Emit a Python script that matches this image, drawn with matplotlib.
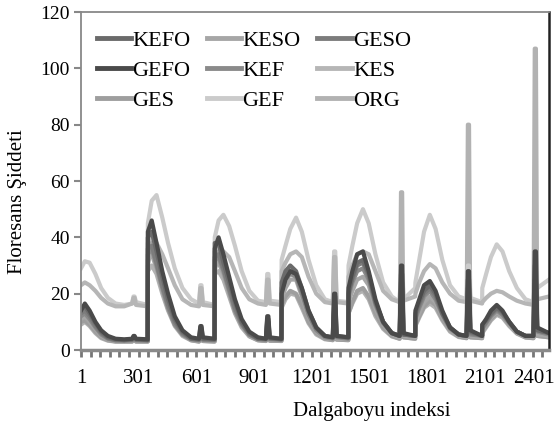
import numpy as np
import matplotlib
matplotlib.use("Agg")
import matplotlib.pyplot as plt
from matplotlib.transforms import ScaledTranslation

plt.rcParams['font.family'] = ['Liberation Serif', 'DejaVu Serif']

# spectra are 7 unfolded blocks of 348 points, values read at these offsets
SEG_LEN = 348
N_SEG = 7
OFFSETS = [0, 20, 45, 75, 105, 140, 180, 225, 266, 276, 286, 347]
SPIKE_OFF = 276   # scatter peak, drawn as a narrow flat-topped spike

GEF = [[29, 31.5, 31, 27, 22, 18.5, 16.5, 16, 16.5, 19, 17, 16],
       [45, 53, 55, 47, 38, 29, 22, 18, 16.5, 23, 17, 16],
       [40, 46, 48, 44, 37, 28, 21, 17.5, 17, 27, 17.5, 17],
       [32, 37, 43, 47, 42, 32, 23, 18, 17, 35, 17.5, 17],
       [30, 37, 45, 50, 45, 34, 24, 19, 17, 30, 18, 22],
       [24, 32, 42, 48, 43, 32, 23, 19, 18, 30, 18.5, 17],
       [22, 27, 33, 37.5, 35, 28, 22, 18, 17, 30, 22, 25]]
KES = [[23, 24, 23, 21, 18.5, 16.5, 15.5, 15.5, 16.5, 18.5, 16, 15.5],
       [38, 40, 38, 34, 29, 23, 18, 16, 15.5, 22, 16, 15.5],
       [35, 36, 35, 33, 28, 22, 18, 16.5, 16, 25, 16.5, 16],
       [28, 31, 34, 35, 33, 26, 20, 17, 16.5, 33, 17, 16.5],
       [26, 30, 34, 35, 34, 28, 21, 18, 17, 28, 17.5, 19],
       [20, 24, 28, 30.5, 29, 24, 20, 17.5, 17, 26, 17.5, 16.5],
       [17, 18.5, 20, 21, 20.5, 19, 17.5, 16.5, 16, 25, 18, 19]]
GEFO = [[14, 16.5, 14, 10, 7, 5, 4, 3.8, 4, 5, 4, 3.8],
        [42, 46, 38, 28, 20, 12, 7, 4.5, 4, 8.5, 4.5, 4],
        [36, 40, 34, 26, 18, 11, 6.5, 4.5, 4, 12, 4.5, 4],
        [20, 25, 28, 27, 22, 14, 8, 5, 4.5, 20, 5, 4.5],
        [22, 28, 34, 35, 28, 18, 10, 6, 5, 30, 6, 5],
        [14, 18, 23, 24.5, 21, 14, 8, 5.5, 5, 28, 7, 5],
        [9, 11, 14, 16, 14, 10, 6.5, 5, 5, 35, 8, 6]]
KEFO = [[15, 15.5, 13, 9.5, 6.5, 4.5, 3.8, 3.5, 3.8, 4.5, 3.8, 3.5],
        [40, 42, 35, 26, 18, 11, 6.5, 4, 3.8, 8, 4, 3.8],
        [38, 38, 31, 24, 17, 10, 6, 4, 4, 11, 4.2, 3.8],
        [24, 28, 30, 28, 22, 14, 8, 5, 4.5, 19, 5, 4.5],
        [20, 26, 31, 32, 27, 17, 10, 6, 5, 27, 5.5, 5],
        [13, 17, 21, 23, 20, 13, 8, 5.5, 5, 25, 6.5, 5],
        [9, 10.5, 13, 15, 13.5, 10, 6.5, 5, 5, 30, 7, 6]]
GESO = [[13, 14, 12, 8.5, 6, 4.2, 3.5, 3.5, 3.6, 4.5, 3.6, 3.5],
        [36, 37, 31, 23, 16, 10, 6, 4, 3.6, 7, 3.8, 3.6],
        [33, 34, 29, 22, 15, 9.5, 5.5, 4, 3.8, 10, 4, 3.8],
        [22, 26, 28, 27, 21, 13, 7.5, 5, 4.2, 17, 4.8, 4.2],
        [21, 25, 30, 31, 26, 17, 10, 6, 5, 24, 5.5, 5],
        [12, 16, 20, 22, 19, 13, 8, 5.5, 5, 22, 6, 5],
        [8, 10, 12.5, 14.5, 13, 10, 6.5, 5, 5, 25, 7, 6]]
KEF = [[12, 13, 11, 8, 5.5, 4, 3.4, 3.3, 3.4, 4, 3.4, 3.3],
       [34, 36, 30, 22, 15, 9, 5.5, 3.8, 3.4, 6, 3.6, 3.4],
       [32, 33, 28, 21, 14, 9, 5.5, 3.8, 3.6, 8, 3.8, 3.6],
       [21, 25, 27, 26, 20, 12.5, 7, 4.5, 4, 14, 4.5, 4],
       [19, 24, 28, 29, 25, 16, 9.5, 6, 5, 20, 5.5, 5],
       [11, 15, 19, 21, 18, 12.5, 7.5, 5.5, 5, 18, 5.5, 5],
       [7.5, 9.5, 12, 14, 12.5, 9.5, 6.5, 5, 5, 20, 6.5, 5.5]]
KESO = [[11, 12, 10, 7.5, 5, 3.8, 3.2, 3.1, 3.2, 3.8, 3.2, 3.1],
        [32, 34, 29, 21, 14.5, 9, 5.5, 3.6, 3.2, 5, 3.4, 3.2],
        [30, 31, 27, 20, 13.5, 8.5, 5, 3.6, 3.4, 6, 3.5, 3.4],
        [18, 22, 25, 25, 19, 12, 6.5, 4.2, 3.8, 10, 4, 3.8],
        [17, 21, 25, 26, 23, 15, 9, 5.5, 4.5, 14, 5, 4.5],
        [10, 13, 17, 19, 17, 12, 7, 5, 4.5, 14, 5, 4.5],
        [7, 9, 11.5, 13.5, 12, 9, 6, 4.8, 4.5, 15, 5.5, 5]]
GES = [[10, 10.5, 9, 6.5, 4.5, 3.5, 3, 3, 3, 3.5, 3, 3],
       [30, 38, 33, 24, 16, 9.5, 5.5, 3.5, 3, 4.5, 3.2, 3],
       [28, 35, 31, 23, 15, 9, 5, 3.5, 3.2, 5, 3.3, 3.2],
       [16, 19, 21, 20, 16, 10, 6, 4, 3.5, 8, 3.7, 3.5],
       [13, 17, 21, 22, 19, 13, 8, 5, 4, 10, 4.5, 4],
       [9, 12, 15.5, 17.5, 16, 11, 7, 4.8, 4.2, 10, 4.5, 4.2],
       [6.5, 8.5, 11, 13, 12, 9, 6, 4.5, 4.2, 10, 5, 4.5]]
ORG = [[9, 10, 8.5, 6, 4.2, 3.3, 3, 3, 3, 4, 3, 3],
       [28, 30, 27, 20, 14, 8.5, 5, 3.4, 3, 6, 3.2, 3],
       [27, 28, 25, 19, 13, 8, 4.8, 3.4, 3.2, 9, 3.3, 3.2],
       [15, 18, 20, 19.5, 15, 9.5, 5.5, 3.8, 3.5, 14, 3.7, 3.5],
       [13, 16.5, 20, 21, 18, 12, 7.5, 4.8, 4, 56, 4.5, 4],
       [8.5, 11.5, 15, 16.5, 15, 10.5, 6.5, 4.6, 4.2, 80, 4.5, 4.2],
       [6, 8, 10.5, 12.5, 11.5, 8.5, 5.8, 4.4, 4.2, 107, 5, 4.5]]

LABELS = ['KEFO', 'KESO', 'GESO', 'GEFO', 'KEF', 'KES', 'GES', 'GEF', 'ORG']
SERIES = [KEFO, KESO, GESO, GEFO, KEF, KES, GES, GEF, ORG]
COLORS = ['#6a6a6a', '#a6a6a6', '#7c7c7c', '#4a4a4a', '#8a8a8a',
          '#b6b6b6', '#9e9e9e', '#cbcbcb', '#b2b2b2']
# drawing order: light ones first, dark ones on top
DRAW_ORDER = [8, 7, 5, 6, 1, 4, 2, 0, 3]
# legend is filled row by row (3 per row) in the original
LEGEND_ORDER = [0, 3, 6, 1, 4, 7, 2, 5, 8]


def unfold(blocks):
    xs, ys = [], []
    for k, block in enumerate(blocks):
        for off, v in zip(OFFSETS, block):
            x0 = k * SEG_LEN + off + 1
            if off == SPIKE_OFF:
                xs += [x0 - 3, x0 + 3]
                ys += [v, v]
            else:
                xs.append(x0)
                ys.append(v)
    return np.array(xs), np.array(ys)


fig = plt.figure(figsize=(5.57, 4.26), dpi=100)
ax = fig.add_axes([0.1454, 0.1784, 0.8402, 0.7934])

handles = [None] * len(SERIES)
for i in DRAW_ORDER:
    x, y = unfold(SERIES[i])
    line, = ax.plot(x, y, color=COLORS[i], lw=3.0)
    handles[i] = line

ax.set_xlim(1, N_SEG * SEG_LEN)
ax.set_ylim(0, 120)
ax.set_yticks(np.arange(0, 121, 20))
ax.set_xticks(np.arange(1, 2402, 300))
ax.set_xticks(np.arange(1, N_SEG * SEG_LEN, 50), minor=True)

ax.tick_params(axis='x', which='both', direction='out', length=5, width=2,
               color='#777777', labelsize=15, pad=9)
ax.tick_params(axis='y', direction='out', length=5, width=1.5,
               color='#888888', labelsize=14, pad=3)
# last label sits a little to the left so it stays inside the figure
last = ax.get_xticklabels()[-1]
last.set_transform(last.get_transform() +
                   ScaledTranslation(-8 / 100, 0, fig.dpi_scale_trans))

for side in ['left', 'top']:
    ax.spines[side].set_color('#888888')
    ax.spines[side].set_linewidth(1.3)
ax.spines['bottom'].set_color('#8a8a8a')
ax.spines['bottom'].set_linewidth(2.5)
ax.spines['right'].set_color('#222222')
ax.spines['right'].set_linewidth(1.8)

ax.set_xlabel('Dalgaboyu indeksi', fontsize=15)
ax.xaxis.set_label_coords(0.622, -0.155)
ax.set_ylabel('Floresans Şiddeti', fontsize=15)
ax.yaxis.set_label_coords(-0.115, 0.44)

leg = ax.legend([handles[i] for i in LEGEND_ORDER],
                [LABELS[i] for i in LEGEND_ORDER],
                ncol=3, loc='upper left', bbox_to_anchor=(0.005, 0.985),
                frameon=False, fontsize=16, handlelength=1.55,
                handletextpad=0.05, columnspacing=0.75,
                labelspacing=0.42, borderaxespad=0.2)
for h in leg.get_lines():
    h.set_linewidth(3.5)

fig.savefig('out.png', dpi=100)
